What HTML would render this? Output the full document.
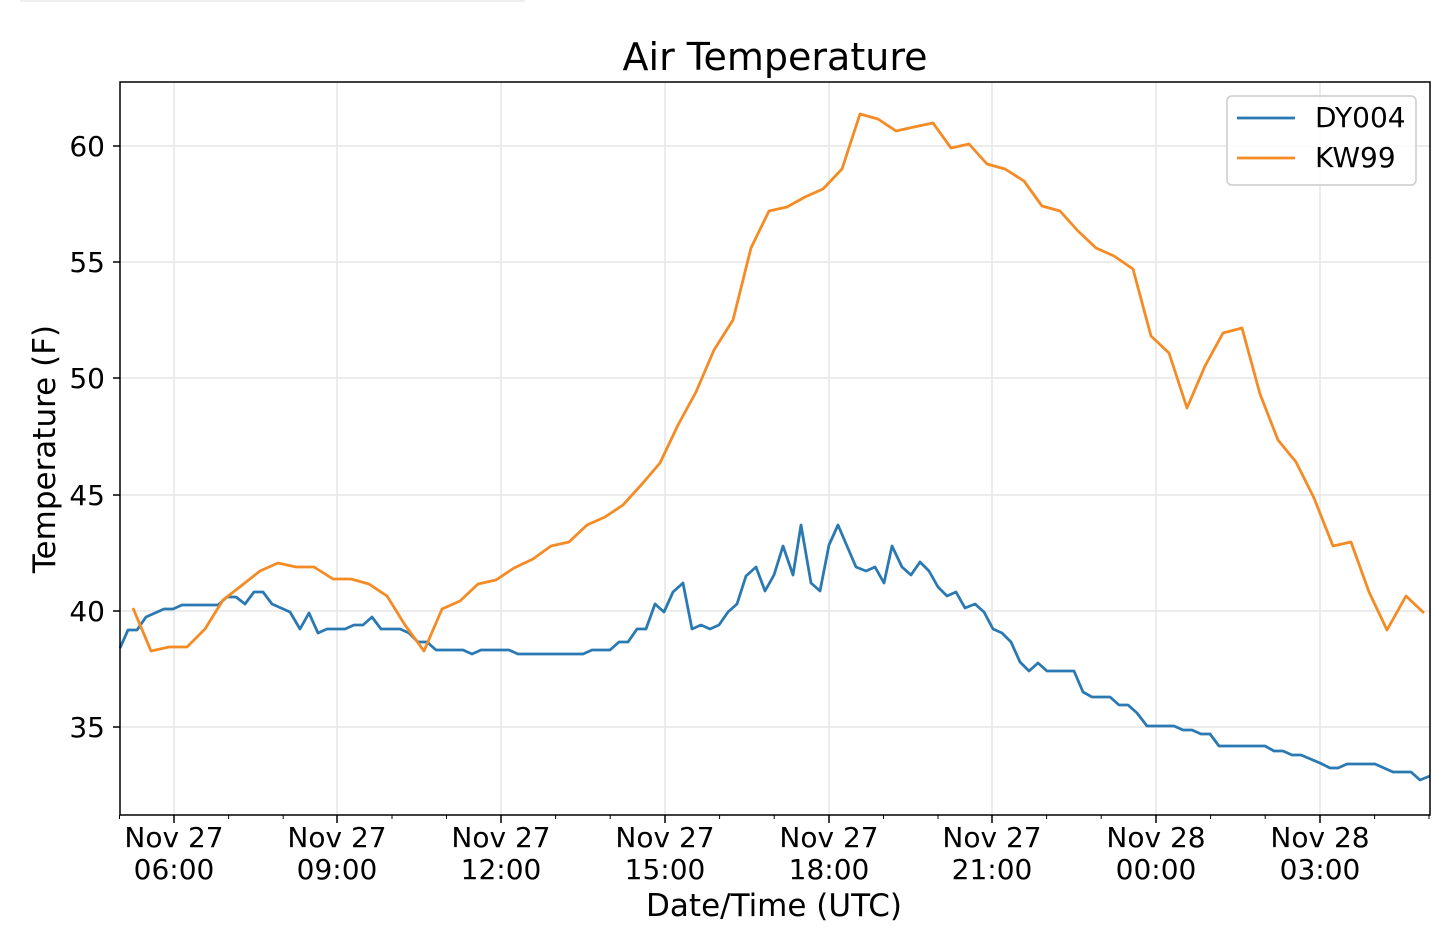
<!DOCTYPE html>
<html><head><meta charset="utf-8"><style>
html,body{margin:0;padding:0;background:#fff;}
svg{display:block;font-family:"DejaVu Sans","Liberation Sans",sans-serif;}
</style></head><body>
<svg width="1438" height="947" viewBox="0 0 1438 947" xmlns="http://www.w3.org/2000/svg">
<line x1="20" y1="1" x2="525" y2="1" stroke="#eee" stroke-width="2"/>
<text x="775" y="70" font-size="38" text-anchor="middle" fill="#000">Air Temperature</text>
<g stroke="#e6e6e6" stroke-width="1.5">
<line x1="174" y1="82" x2="174" y2="815"/><line x1="337" y1="82" x2="337" y2="815"/>
<line x1="501" y1="82" x2="501" y2="815"/><line x1="665" y1="82" x2="665" y2="815"/>
<line x1="829" y1="82" x2="829" y2="815"/><line x1="992" y1="82" x2="992" y2="815"/>
<line x1="1156" y1="82" x2="1156" y2="815"/><line x1="1320" y1="82" x2="1320" y2="815"/>
<line x1="120" y1="146" x2="1430" y2="146"/><line x1="120" y1="262" x2="1430" y2="262"/>
<line x1="120" y1="378" x2="1430" y2="378"/><line x1="120" y1="495" x2="1430" y2="495"/>
<line x1="120" y1="611" x2="1430" y2="611"/><line x1="120" y1="727" x2="1430" y2="727"/>
</g>
<polyline fill="none" stroke="#2a79b2" stroke-width="2.8" stroke-linejoin="round" points="120,648 128,630 137,630 146,617 155,613 164,609 173,609 182,605 218,605 227,597 236,597 245,604 254,592 263,592 272,604 281,608 290,612 300,629 309,613 318,633 327,629 345,629 354,625 363,625 372,617 381,629 400,629 409,633 418,642 427,642 436,650 463,650 472,654 481,650 509,650 518,654 583,654 592,650 610,650 619,642 628,642 637,629 646,629 655,604 664,612 673,592 683,583 692,629 701,625 710,629 719,625 728,612 737,604 746,576 756,567 765,591 774,575 783,546 793,575 801,525 811,583 820,591 829,545 838,525 847,546 856,567 866,571 875,567 884,583 892,546 902,567 911,575 920,562 929,571 938,587 947,596 956,592 965,608 975,604 984,612 993,629 1002,633 1011,642 1020,662 1029,671 1038,663 1047,671 1074,671 1083,692 1092,697 1110,697 1119,705 1128,705 1137,713 1147,726 1174,726 1183,730 1192,730 1201,734 1210,734 1219,746 1265,746 1274,751 1283,751 1292,755 1301,755 1320,763 1330,768 1338,768 1347,764 1375,764 1393,772 1411,772 1420,780 1430,776"/>
<polyline fill="none" stroke="#f58b25" stroke-width="2.8" stroke-linejoin="round" points="133,608 151,651 169,647 187,647 205,629 223,600 241,586 260,571 278,563 296,567 314,567 333,579 351,579 369,584 387,596 405,625 424,651 442,609 460,601 478,584 496,580 514,568 533,559 551,546 569,542 587,525 605,517 623,505 642,484 660,463 678,425 696,392 714,350 733,320 751,248 769,211 787,207 805,197 823,189 842,169 860,114 878,119 896,131 914,127 933,123 951,148 969,144 987,164 1005,169 1024,181 1042,206 1060,211 1078,231 1096,248 1114,256 1133,269 1151,336 1169,353 1187,408 1205,366 1223,333 1242,328 1260,394 1278,440 1296,462 1314,498 1333,546 1351,542 1369,592 1387,630 1406,596 1424,613"/>
<rect x="120" y="82" width="1310" height="733" fill="none" stroke="#000" stroke-width="1.5"/>
<g stroke="#000" stroke-width="1.5">
<line x1="113" y1="146" x2="120" y2="146"/><line x1="113" y1="262" x2="120" y2="262"/>
<line x1="113" y1="378" x2="120" y2="378"/><line x1="113" y1="495" x2="120" y2="495"/>
<line x1="113" y1="611" x2="120" y2="611"/><line x1="113" y1="727" x2="120" y2="727"/>
<line x1="174" y1="815" x2="174" y2="823"/><line x1="337" y1="815" x2="337" y2="823"/>
<line x1="501" y1="815" x2="501" y2="823"/><line x1="665" y1="815" x2="665" y2="823"/>
<line x1="829" y1="815" x2="829" y2="823"/><line x1="992" y1="815" x2="992" y2="823"/>
<line x1="1156" y1="815" x2="1156" y2="823"/><line x1="1320" y1="815" x2="1320" y2="823"/>
</g>
<g stroke="#000" stroke-width="1">
<line x1="228.6" y1="815" x2="228.6" y2="819"/><line x1="283.2" y1="815" x2="283.2" y2="819"/>
<line x1="392" y1="815" x2="392" y2="819"/><line x1="446.5" y1="815" x2="446.5" y2="819"/>
<line x1="555.6" y1="815" x2="555.6" y2="819"/><line x1="610.2" y1="815" x2="610.2" y2="819"/>
<line x1="719.6" y1="815" x2="719.6" y2="819"/><line x1="774.2" y1="815" x2="774.2" y2="819"/>
<line x1="883.5" y1="815" x2="883.5" y2="819"/><line x1="938" y1="815" x2="938" y2="819"/>
<line x1="1046.6" y1="815" x2="1046.6" y2="819"/><line x1="1101.2" y1="815" x2="1101.2" y2="819"/>
<line x1="1210.6" y1="815" x2="1210.6" y2="819"/><line x1="1265.2" y1="815" x2="1265.2" y2="819"/>
<line x1="1374.6" y1="815" x2="1374.6" y2="819"/><line x1="1429" y1="815" x2="1429" y2="819"/>
<line x1="119.5" y1="815" x2="119.5" y2="819"/>
</g>
<g font-size="28" text-anchor="end" fill="#000">
<text x="105" y="156">60</text><text x="105" y="272">55</text><text x="105" y="388">50</text>
<text x="105" y="505">45</text><text x="105" y="621">40</text><text x="105" y="737">35</text>
</g>
<g font-size="28" text-anchor="middle" fill="#000">
<text x="174" y="847">Nov 27</text><text x="174" y="879">06:00</text>
<text x="337" y="847">Nov 27</text><text x="337" y="879">09:00</text>
<text x="501" y="847">Nov 27</text><text x="501" y="879">12:00</text>
<text x="665" y="847">Nov 27</text><text x="665" y="879">15:00</text>
<text x="829" y="847">Nov 27</text><text x="829" y="879">18:00</text>
<text x="992" y="847">Nov 27</text><text x="992" y="879">21:00</text>
<text x="1156" y="847">Nov 28</text><text x="1156" y="879">00:00</text>
<text x="1320" y="847">Nov 28</text><text x="1320" y="879">03:00</text>
</g>
<text x="774" y="916" font-size="31" text-anchor="middle" fill="#000">Date/Time (UTC)</text>
<text transform="translate(55,449) rotate(-90)" font-size="31" text-anchor="middle" fill="#000">Temperature (F)</text>
<rect x="1227" y="96" width="189" height="89" rx="5" fill="#fff" fill-opacity="0.8" stroke="#ccc" stroke-width="1.5"/>
<line x1="1237" y1="118" x2="1295" y2="118" stroke="#2a79b2" stroke-width="2.8"/>
<line x1="1237" y1="158" x2="1295" y2="158" stroke="#f58b25" stroke-width="2.8"/>
<text x="1315" y="127" font-size="28" fill="#000">DY004</text>
<text x="1315" y="167" font-size="28" fill="#000">KW99</text>
</svg>
</body></html>
